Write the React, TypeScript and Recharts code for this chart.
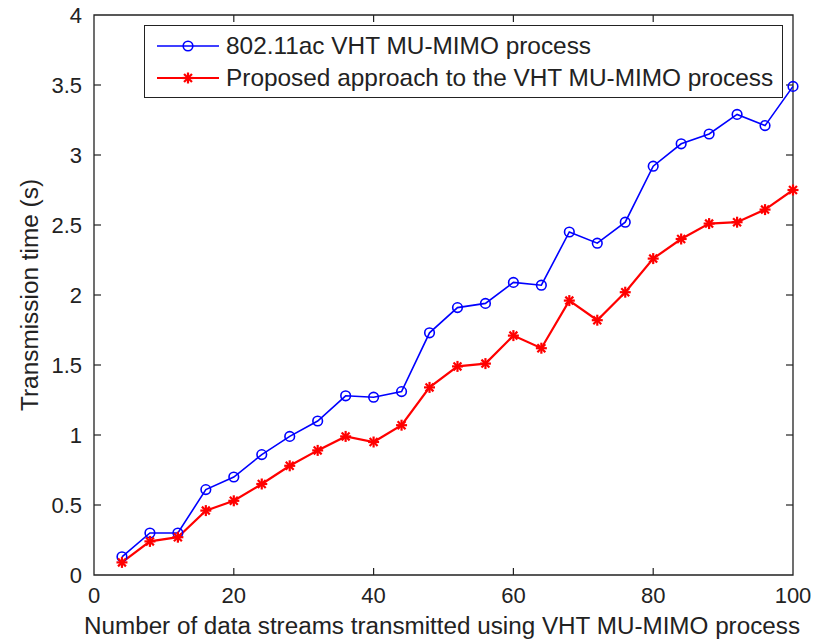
import { LineChart, Line, XAxis, YAxis, Legend, Label, ReferenceLine, ReferenceArea } from 'recharts';

// number of data streams (x) and the two measured transmission times (s)
const streams = [4, 8, 12, 16, 20, 24, 28, 32, 36, 40, 44, 48, 52, 56, 60, 64, 68, 72, 76, 80, 84, 88, 92, 96, 100];
const vhtTime = [0.13, 0.30, 0.30, 0.61, 0.70, 0.86, 0.99, 1.10, 1.28, 1.27, 1.31, 1.73, 1.91, 1.94, 2.09, 2.07, 2.45, 2.37, 2.52, 2.92, 3.08, 3.15, 3.29, 3.21, 3.49];
const proposedTime = [0.09, 0.24, 0.27, 0.46, 0.53, 0.65, 0.78, 0.89, 0.99, 0.95, 1.07, 1.34, 1.49, 1.51, 1.71, 1.62, 1.96, 1.82, 2.02, 2.26, 2.40, 2.51, 2.52, 2.61, 2.75];

const xTicks = [0, 20, 40, 60, 80, 100];
const yTicks = [0, 0.5, 1, 1.5, 2, 2.5, 3, 3.5, 4];

const seriesNames = ['802.11ac VHT MU-MIMO process', 'Proposed approach to the VHT MU-MIMO process'];
const xTitle = 'Number of data streams transmitted using VHT MU-MIMO process';
const yTitle = 'Transmission time (s)';

const rows = streams.map((n, i) => ({ n, vht: vhtTime[i], proposed: proposedTime[i] }));

const FONT = '"Liberation Sans", Arial, sans-serif';
const INK = '#222';
const TICK_LEN = 7;
const X_MARGIN = 10;
const Y_MARGIN = 10;

const BottomTick = ({ x, y, payload }: any) => (
  <text x={x} y={y - X_MARGIN + 28} textAnchor="middle" fontSize={22} fill={INK} fontFamily={FONT}>
    {payload.value}
  </text>
);

const LeftTick = ({ x, y, payload }: any) => (
  <text x={x + Y_MARGIN - 12} y={y + 8} textAnchor="end" fontSize={22} fill={INK} fontFamily={FONT}>
    {payload.value}
  </text>
);

// matlab style inward tick marks at both ends of a reference line
const vTickShape = (props: any) => {
  const { x1, y1, y2 } = props;
  const top = Math.min(y1, y2);
  const bottom = Math.max(y1, y2);
  return (
    <g stroke={INK} strokeWidth={1.2}>
      <line x1={x1} x2={x1} y1={bottom} y2={bottom - TICK_LEN} />
      <line x1={x1} x2={x1} y1={top} y2={top + TICK_LEN} />
    </g>
  );
};

const hTickShape = (props: any) => {
  const { x1, x2, y1 } = props;
  const left = Math.min(x1, x2);
  const right = Math.max(x1, x2);
  return (
    <g stroke={INK} strokeWidth={1.2}>
      <line x1={left} x2={left + TICK_LEN} y1={y1} y2={y1} />
      <line x1={right} x2={right - TICK_LEN} y1={y1} y2={y1} />
    </g>
  );
};

const circleDot = (props: any) => {
  const { cx, cy, index } = props;
  return <circle key={`c-${index}`} cx={cx} cy={cy} r={4.8} fill="none" stroke="#0000ff" strokeWidth={1.6} />;
};

const starDot = (props: any) => {
  const { cx, cy, index } = props;
  const r = 5.5;
  const d = r * 0.72;
  return (
    <g key={`s-${index}`} stroke="#ff0000" strokeWidth={2.2}>
      <line x1={cx - r} x2={cx + r} y1={cy} y2={cy} />
      <line x1={cx} x2={cx} y1={cy - r} y2={cy + r} />
      <line x1={cx - d} x2={cx + d} y1={cy - d} y2={cy + d} />
      <line x1={cx - d} x2={cx + d} y1={cy + d} y2={cy - d} />
    </g>
  );
};

const LegendBox = () => {
  const row = (label: string, color: string, marker: 'o' | '*', center: number) => (
    <div style={{ position: 'absolute', left: 0, top: center - 15, height: 30, width: '100%' }}>
      <svg width={80} height={30} style={{ position: 'absolute', left: 10, top: 0 }}>
        <line x1={2} x2={64} y1={15} y2={15} stroke={color} strokeWidth={marker === 'o' ? 1.6 : 2.2} />
        {marker === 'o' ? circleDot({ cx: 33, cy: 15, index: 0 }) : starDot({ cx: 33, cy: 15, index: 0 })}
      </svg>
      <span style={{ position: 'absolute', left: 81, top: 0, lineHeight: '30px', whiteSpace: 'nowrap' }}>{label}</span>
    </div>
  );
  return (
    <div
      style={{
        position: 'relative',
        width: 639,
        height: 73,
        boxSizing: 'border-box',
        border: `1.5px solid ${INK}`,
        background: '#fff',
        fontFamily: FONT,
        fontSize: 24.4,
        color: INK,
      }}
    >
      {row(seriesNames[0], '#0000ff', 'o', 20)}
      {row(seriesNames[1], '#ff0000', '*', 52)}
    </div>
  );
};

export default function App() {
  return (
    <div style={{ position: 'absolute', left: 0, top: 0, background: '#fff' }}>
      <LineChart width={817} height={640} data={rows} margin={{ top: 15, right: 24, bottom: 0, left: 0 }}>
        <XAxis
          dataKey="n"
          type="number"
          domain={[0, 100]}
          ticks={xTicks}
          height={65}
          tickSize={0}
          tickMargin={X_MARGIN}
          axisLine={false}
          tick={<BottomTick />}
          interval={0}
        >
          <Label
            content={({ viewBox }: any) => (
              <text
                x={viewBox.x + viewBox.width / 2 - 1.5}
                y={viewBox.y + 59}
                textAnchor="middle"
                fontSize={23}
                fill={INK}
                fontFamily={FONT}
                textLength={716}
                lengthAdjust="spacingAndGlyphs"
              >
                {xTitle}
              </text>
            )}
          />
        </XAxis>
        <YAxis
          type="number"
          domain={[0, 4]}
          ticks={yTicks}
          width={94}
          tickSize={0}
          tickMargin={Y_MARGIN}
          axisLine={false}
          tick={<LeftTick />}
          interval={0}
        >
          <Label
            content={({ viewBox }: any) => {
              const cx = viewBox.x + 30;
              const cy = viewBox.y + viewBox.height / 2;
              return (
                <text
                  x={cx}
                  y={cy}
                  transform={`rotate(-90 ${cx} ${cy})`}
                  textAnchor="middle"
                  dominantBaseline="central"
                  fontSize={23}
                  fill={INK}
                  fontFamily={FONT}
                  textLength={232}
                  lengthAdjust="spacingAndGlyphs"
                >
                  {yTitle}
                </text>
              );
            }}
          />
        </YAxis>

        {/* axes box */}
        <ReferenceArea
          x1={xTicks[0]}
          x2={xTicks[xTicks.length - 1]}
          y1={yTicks[0]}
          y2={yTicks[yTicks.length - 1]}
          fill="none"
          fillOpacity={0}
          stroke={INK}
          strokeWidth={1.3}
          ifOverflow="visible"
        />
        {xTicks.slice(1, -1).map((t) => (
          <ReferenceLine key={`xt-${t}`} x={t} shape={vTickShape} ifOverflow="visible" />
        ))}
        {yTicks.slice(1, -1).map((t) => (
          <ReferenceLine key={`yt-${t}`} y={t} shape={hTickShape} ifOverflow="visible" />
        ))}

        <Legend
          layout="vertical"
          align="center"
          verticalAlign="middle"
          content={<LegendBox />}
          wrapperStyle={{ position: 'absolute', left: 144, top: 25, width: 639, height: 73 }}
        />
        <Line
          dataKey="vht"
          name={seriesNames[0]}
          stroke="#0000ff"
          strokeWidth={1.6}
          dot={circleDot}
          activeDot={false}
          isAnimationActive={false}
        />
        <Line
          dataKey="proposed"
          name={seriesNames[1]}
          stroke="#ff0000"
          strokeWidth={2.2}
          dot={starDot}
          activeDot={false}
          isAnimationActive={false}
        />
      </LineChart>
    </div>
  );
}
